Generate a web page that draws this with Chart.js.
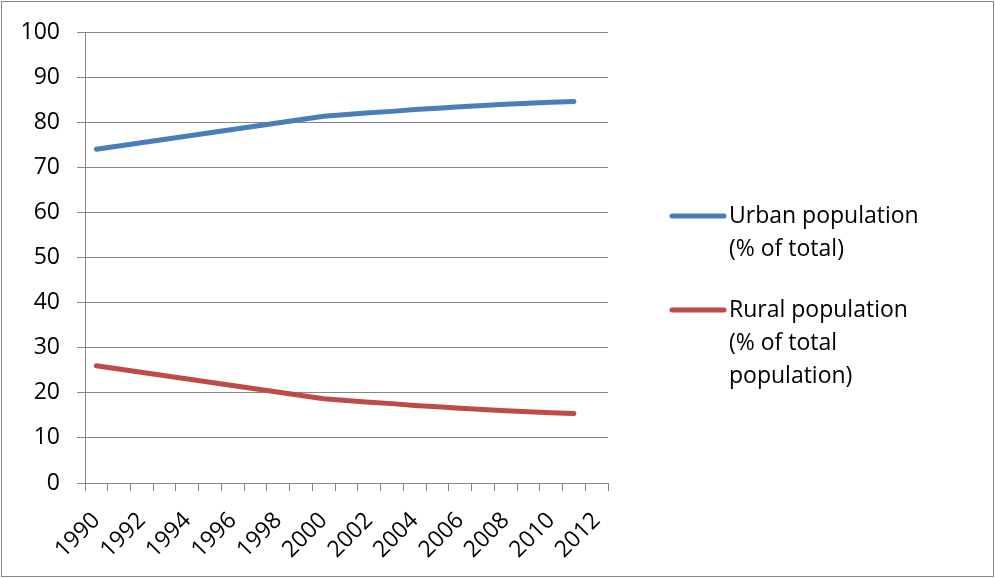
<!DOCTYPE html>
<html>
<head>
<meta charset="utf-8">
<script src="https://cdn.jsdelivr.net/npm/chart.js@4/dist/chart.umd.min.js"></script>
<style>
  html, body { margin: 0; padding: 0; background: #fff; }
  #wrap { width: 995px; height: 578px; position: relative; }
</style>
</head>
<body>
<div id="wrap"><canvas id="popChart" width="995" height="578"></canvas></div>
<script>
// years on the category axis (2012 has no value, it only closes the axis)
const years = ['1990','1991','1992','1993','1994','1995','1996','1997','1998','1999','2000',
               '2001','2002','2003','2004','2005','2006','2007','2008','2009','2010','2011','2012'];

// % of total population (null = no point in the source)
const urbanValues = [74.0, null, null, null, null, null, null, null, null, null, 81.3,
                     81.7, 82.1, 82.4, 82.8, 83.1, 83.4, 83.7, 84.0, 84.2, 84.4, 84.6, null];
const ruralValues = [26.0, null, null, null, null, null, null, null, null, null, 18.7,
                     18.3, 17.9, 17.6, 17.2, 16.9, 16.6, 16.3, 16.0, 15.8, 15.6, 15.4, null];

const urbanLabel = ['Urban population', '(% of total)'];
const ruralLabel = ['Rural population', '(% of total', 'population)'];

const yTicks = [0, 10, 20, 30, 40, 50, 60, 70, 80, 90, 100];

const FONT = '"Open Sans", "Liberation Sans", sans-serif';
const GRID = '#868686';

// frame round the whole picture plus the wrapped legend on the right
const framePlugin = {
    id: 'frame',
    beforeDraw(chart) {
        const c = chart.ctx;
        c.save();
        c.fillStyle = '#fff';
        c.fillRect(0, 0, chart.width, chart.height);
        c.strokeStyle = GRID;
        c.lineWidth = 1;
        c.strokeRect(1.5, 1.5, chart.width - 3, chart.height - 3);
        c.restore();
    },
    afterDraw(chart) {
        const c = chart.ctx;
        const rows = [216, 310];
        c.save();
        c.font = '23px ' + FONT;
        c.textBaseline = 'middle';
        chart.data.datasets.forEach((ds, i) => {
            const y = rows[i];
            c.strokeStyle = ds.borderColor;
            c.lineWidth = 5;
            c.lineCap = 'round';
            c.beginPath();
            c.moveTo(672, y);
            c.lineTo(724, y);
            c.stroke();
            c.fillStyle = '#000';
            ds.legendLines.forEach((t, j) => c.fillText(t, 729, y + j * 33));
        });
        c.restore();
    }
};

window.addEventListener('DOMContentLoaded', () => {
    const ctx = document.getElementById('popChart').getContext('2d');
    new Chart(ctx, {
        type: 'line',
        data: {
            labels: years,
            datasets: [
                { label: urbanLabel.join(' '), legendLines: urbanLabel, data: urbanValues,
                  borderColor: '#4A7EBB', borderWidth: 5, borderCapStyle: 'round', borderJoinStyle: 'round',
                  pointRadius: 0, tension: 0, spanGaps: true, fill: false },
                { label: ruralLabel.join(' '), legendLines: ruralLabel, data: ruralValues,
                  borderColor: '#BE4B48', borderWidth: 5, borderCapStyle: 'round', borderJoinStyle: 'round',
                  pointRadius: 0, tension: 0, spanGaps: true, fill: false }
            ]
        },
        options: {
            responsive: false,
            animation: false,
            layout: { padding: { top: 32, right: 387, left: 0, bottom: 0 } },
            plugins: { legend: { display: false }, tooltip: { enabled: false } },
            scales: {
                x: {
                    offset: true,
                    afterFit: (s) => { s.height = 95; },
                    grid: { offset: true, drawOnChartArea: false, drawTicks: true, tickLength: 8, color: GRID, lineWidth: 1 },
                    border: { color: GRID, width: 1 },
                    ticks: {
                        autoSkip: false, minRotation: 45, maxRotation: 45, padding: 16,
                        color: '#000', font: { family: FONT, size: 23 },
                        callback: function (v, i) { return i % 2 === 0 ? this.getLabelForValue(v) : ''; }
                    }
                },
                y: {
                    min: yTicks[0], max: yTicks[yTicks.length - 1],
                    afterFit: (s) => { s.width = 85; },
                    afterBuildTicks: (s) => { s.ticks = yTicks.map(v => ({ value: v })); },
                    grid: { color: GRID, lineWidth: 1, tickLength: 8 },
                    border: { color: GRID, width: 1 },
                    ticks: { padding: 17, color: '#000', font: { family: FONT, size: 23 } }
                }
            }
        },
        plugins: [framePlugin]
    });
});
</script>
</body>
</html>
